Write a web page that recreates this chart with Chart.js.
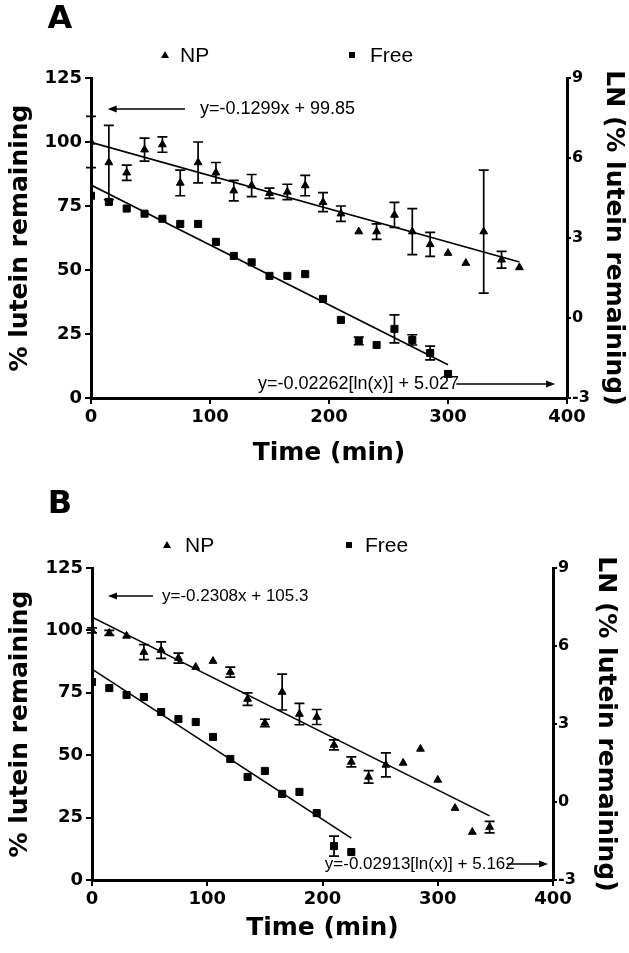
<!DOCTYPE html>
<html><head><meta charset="utf-8">
<script src="https://cdn.jsdelivr.net/npm/chart.js@4.4.1/dist/chart.umd.min.js"></script>
<style>
html,body{margin:0;padding:0;background:#fff;}
.panel{position:absolute;left:0;}
</style></head><body>
<div class="panel" style="top:0"><canvas id="chartA" width="629" height="476"></canvas></div>
<div class="panel" style="top:476px"><canvas id="chartB" width="629" height="477"></canvas></div>
<script>
'use strict';
// panel A
const T_NP_A=[0,15,30,45,60,75,90,105,120,135,150,165,180,195,210,225,240,255,270,285,300,315,330,345,360];
const NP_A=[100,92,88,97,99,84,92,88,81,83,80,80.5,83,76.5,72,65,65,71.5,65,60,56.6,52.7,65,54,51];
const NP_A_ERR=[10,14.5,3,4.5,3,5,8,4,4,4.3,2,3,4,3.7,3,0,3,4.9,9,4.7,0,0,24,3.3,0];
const T_FREE_A=[0,15,30,45,60,75,90,105,120,135,150,165,180,195,210,225,240,255,270,285,300];
const FREE_A=[79,76.6,74,72,70,68,68,61,55.5,53,47.7,47.7,48.4,38.7,30.5,22.3,20.7,27,22.7,17.6,9.4];
const FREE_A_ERR=[0,0,0,0,0,0,0,0,0,0,0,0,0,0,0,1.5,0,5.5,2,2.7,0];
const FIT_NP_A_X=[0,360],FIT_NP_A_Y=[99.85,53.09];
const FIT_FREE_A_X=[0,300],FIT_FREE_A_Y=[83.2,13];
// panel B
const T_NP_B=[0,15,30,45,60,75,90,105,120,135,150,165,180,195,210,225,240,255,270,285,300,315,330,345];
const NP_B=[100,99,97.8,91.3,92.1,88.9,85.3,87.7,83.3,72.5,62.9,75.3,66.5,65.3,54.1,47.3,41.3,46.1,46.9,52.5,40.1,28.8,19.2,21.2];
const NP_B_ERR=[1,1,0,3,3.3,2,0,0,2,2.5,1.5,7.2,4.3,3,2,2,2.5,4.8,0,0,0,0,0,2.3];
const T_FREE_B=[0,15,30,45,60,75,90,105,120,135,150,165,180,195,210,225];
const FREE_B=[79.3,76.9,74.1,73.3,67.3,64.5,63.3,57.3,48.5,41.3,43.7,34.5,35.3,26.8,13.6,11.2];
const FREE_B_ERR=[0,0,0,0,0,0,0,0,0,0,0,0,0,0,4,0];
const FIT_NP_B_X=[0,345],FIT_NP_B_Y=[105.3,25.7];
const FIT_FREE_B_X=[0,225],FIT_FREE_B_Y=[84.5,16.8];
const X_TICKS=[0,100,200,300,400],Y_TICKS=[0,25,50,75,100,125],LN_TICKS=[-3,0,3,6,9];

const pts=(xs,ys)=>xs.map((x,i)=>({x,y:ys[i]}));
const TICK_FONT={family:'"DejaVu Sans"',weight:'bold',size:18};
const TITLE_FONT={family:'"DejaVu Sans"',weight:'bold',size:25};

const errorBars={id:'errorBars',afterDatasetsDraw(chart){
  const {ctx}=chart,y=chart.scales.y;
  chart.data.datasets.forEach((ds,i)=>{
    if(!ds.err)return;
    const meta=chart.getDatasetMeta(i);
    ctx.save();ctx.strokeStyle='#000';ctx.lineWidth=1.7;
    meta.data.forEach((p,j)=>{
      const e=ds.err[j];if(!e)return;
      const v=ds.data[j].y,t=y.getPixelForValue(v+e),b=y.getPixelForValue(v-e);
      ctx.beginPath();ctx.moveTo(p.x,t);ctx.lineTo(p.x,b);
      ctx.moveTo(p.x-5,t);ctx.lineTo(p.x+5,t);ctx.moveTo(p.x-5,b);ctx.lineTo(p.x+5,b);ctx.stroke();
    });
    ctx.restore();
  });
}};

function arrow(ctx,x0,x1,y){
  const d=x1>x0?1:-1;
  ctx.beginPath();ctx.moveTo(x0,y);ctx.lineTo(x1-d*8,y);ctx.stroke();
  ctx.beginPath();ctx.moveTo(x1,y);ctx.lineTo(x1-d*9,y-3.5);ctx.lineTo(x1-d*9,y+3.5);ctx.closePath();ctx.fill();
}

const notes={id:'notes',afterDraw(chart,args,o){
  const {ctx,scales:{x,y}}=chart;
  ctx.save();ctx.fillStyle='#000';ctx.strokeStyle='#000';ctx.lineWidth=1.5;
  ctx.font='bold 32px "DejaVu Sans"';ctx.textAlign='center';ctx.textBaseline='middle';
  ctx.fillText(o.letter,o.letterX,o.letterY);
  // legend
  const L=o.legend;
  ctx.beginPath();ctx.moveTo(L.triX,L.y-4);ctx.lineTo(L.triX+4,L.y+3);ctx.lineTo(L.triX-4,L.y+3);ctx.closePath();ctx.fill();
  ctx.fillRect(L.sqX-3,L.y-3,6,6);
  ctx.font='21px "Liberation Sans"';ctx.textAlign='left';
  ctx.fillText('NP',L.npX,L.y+1);ctx.fillText('Free',L.freeX,L.y+1);
  // fit equations
  o.eqs.forEach(q=>{
    const py=y.getPixelForValue(q.y);
    ctx.font=q.size+'px "Liberation Sans"';ctx.textAlign='left';ctx.textBaseline='middle';
    ctx.fillText(q.text,x.getPixelForValue(q.x),py);
    arrow(ctx,x.getPixelForValue(q.from),x.getPixelForValue(q.to),py);
  });
  ctx.restore();
}};

function makeChart(id,d,lay){
  const scatter=(data,err,style,r)=>({type:'scatter',data,err,pointStyle:style,pointRadius:r,pointHoverRadius:r,
    backgroundColor:'#000',borderColor:'#000',borderWidth:1});
  const fit=data=>({type:'line',data,showLine:true,borderColor:'#000',borderWidth:1.6,pointRadius:0,fill:false,tension:0});
  const axis=(extra)=>Object.assign({
    grid:{display:true,drawOnChartArea:false,drawTicks:true,tickLength:6,color:'#000',lineWidth:2},
    border:{display:true,width:3,color:'#000'}},extra);
  return new Chart(document.getElementById(id),{
    data:{datasets:[
      fit(d.fitNp),fit(d.fitFree),
      scatter(d.np,d.npErr,'triangle',4.5),
      scatter(d.free,d.freeErr,'rect',5)
    ]},
    options:{responsive:false,animation:false,events:[],
      layout:{padding:{top:lay.top,left:0,right:0,bottom:0}},
      plugins:{legend:{display:false},tooltip:{enabled:false},notes:lay.notes},
      scales:{
        x:axis({type:'linear',min:0,max:400,
          afterBuildTicks:s=>{s.ticks=X_TICKS.map(v=>({value:v}));},
          afterFit:s=>{s.height=lay.xH;},
          ticks:{color:'#000',font:TICK_FONT,padding:3,maxRotation:0},
          title:{display:true,text:'Time (min)',color:'#000',font:TITLE_FONT,padding:{top:0,bottom:lay.xTitlePad}}}),
        y:axis({type:'linear',position:'left',min:0,max:125,
          afterBuildTicks:s=>{s.ticks=Y_TICKS.map(v=>({value:v}));},
          afterFit:s=>{s.width=lay.yW;},
          ticks:{color:'#000',font:TICK_FONT,padding:3},
          title:{display:true,text:'% lutein remaining',color:'#000',font:TITLE_FONT,padding:{top:lay.yTitlePad,bottom:0}}}),
        y1:axis({type:'linear',position:'right',min:-3,max:9,
          afterBuildTicks:s=>{s.ticks=LN_TICKS.map(v=>({value:v}));},
          afterFit:s=>{s.width=lay.y1W;},
          grid:{display:true,drawOnChartArea:false,drawTicks:true,tickLength:4,color:'#000',lineWidth:2},
          ticks:{color:'#000',font:{family:'"DejaVu Sans"',weight:'bold',size:16},padding:1},
          title:{display:true,text:'LN (% lutein remaining)',color:'#000',font:TITLE_FONT,padding:{top:lay.y1TitlePad,bottom:0}}})
      }},
    plugins:[errorBars,notes]
  });
}

makeChart('chartA',{
  np:pts(T_NP_A,NP_A),npErr:NP_A_ERR,free:pts(T_FREE_A,FREE_A),freeErr:FREE_A_ERR,
  fitNp:pts(FIT_NP_A_X,FIT_NP_A_Y),fitFree:pts(FIT_FREE_A_X,FIT_FREE_A_Y)
},{top:78,xH:78,yW:91,y1W:62,xTitlePad:8,yTitlePad:5,y1TitlePad:1,
  notes:{letter:'A',letterX:60,letterY:20,legend:{y:55,triX:165,npX:180,sqX:352,freeX:370},
    eqs:[{text:'y=-0.1299x + 99.85',size:18,x:91.6,y:112.9,from:79,to:14},
         {text:'y=-0.02262[ln(x)] + 5.027',size:18,x:140.3,y:5.5,from:307,to:390}]}});

makeChart('chartB',{
  np:pts(T_NP_B,NP_B),npErr:NP_B_ERR,free:pts(T_FREE_B,FREE_B),freeErr:FREE_B_ERR,
  fitNp:pts(FIT_NP_B_X,FIT_NP_B_Y),fitFree:pts(FIT_FREE_B_X,FIT_FREE_B_Y)
},{top:92,xH:73,yW:92,y1W:76,xTitlePad:10,yTitlePad:5,y1TitlePad:9,
  notes:{letter:'B',letterX:60,letterY:29,legend:{y:69,triX:167,npX:185,sqX:349,freeX:365},
    eqs:[{text:'y=-0.2308x + 105.3',size:17,x:60.7,y:113.8,from:52.9,to:13.9},
         {text:'y=-0.02913[ln(x)] + 5.162',size:17,x:202,y:6.4,from:360,to:395.7}]}});
</script>
</body></html>
